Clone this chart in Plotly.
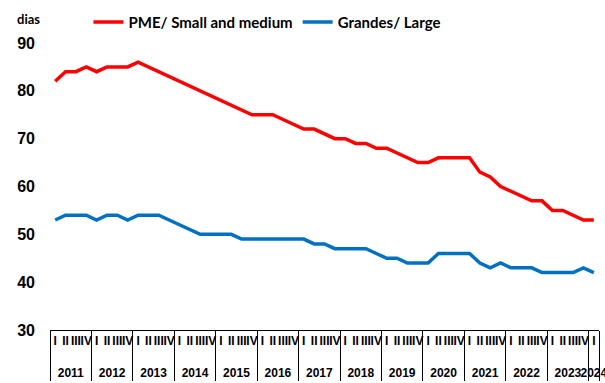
import plotly.graph_objects as go

years = ["2011", "2012", "2013", "2014", "2015", "2016", "2017",
         "2018", "2019", "2020", "2021", "2022", "2023", "2024"]
quarters = ["I", "II", "III", "IV"]

pme = [82, 84, 84, 85, 84, 85, 85, 85,
       86, 85, 84, 83, 82, 81, 80, 79,
       78, 77, 76, 75, 75, 75, 74, 73,
       72, 72, 71, 70, 70, 69, 69, 68,
       68, 67, 66, 65, 65, 66, 66, 66,
       66, 63, 62, 60, 59, 58, 57, 57,
       55, 55, 54, 53, 53]
grandes = [53, 54, 54, 54, 53, 54, 54, 53,
           54, 54, 54, 53, 52, 51, 50, 50,
           50, 50, 49, 49, 49, 49, 49, 49,
           49, 48, 48, 47, 47, 47, 47, 46,
           45, 45, 44, 44, 44, 46, 46, 46,
           46, 44, 43, 44, 43, 43, 43, 42,
           42, 42, 42, 43, 42]

n = len(pme)
# year labels sit a line lower than the quarter row
year_row = ["<br>" + years[i // 4] for i in range(n)]
quarter_row = [quarters[i % 4] for i in range(n)]
x = [year_row, quarter_row]

fig = go.Figure()
fig.add_trace(go.Scatter(x=x, y=pme, mode="lines", name="PME/ Small and medium",
                         line=dict(color="#FF0000", width=3.5)))
fig.add_trace(go.Scatter(x=x, y=grandes, mode="lines", name="Grandes/ Large",
                         line=dict(color="#0070C0", width=3.5)))

fig.update_layout(
    width=605, height=383,
    margin=dict(l=50, r=6, t=37, b=53),
    paper_bgcolor="white", plot_bgcolor="white",
    showlegend=True,
    legend=dict(orientation="h", x=0.07, y=1.13, yanchor="top", xanchor="left",
                font=dict(family="Lato", size=15, weight="bold", color="black"),
                itemwidth=30, tracegroupgap=0, bgcolor="rgba(0,0,0,0)"),
    annotations=[dict(text="dias", xref="paper", yref="paper", x=-0.04, y=1.085,
                      xanchor="center", yanchor="middle", showarrow=False,
                      font=dict(family="Lato", size=13, weight="bold", color="black"))],
)

fig.update_xaxes(
    type="multicategory",
    automargin=False,
    range=[-0.5, n - 0.5],
    tickmode="linear", tick0=0, dtick=1,
    showline=True, linecolor="black", linewidth=1, mirror=False,
    ticks="", showgrid=False, tickangle=0,
    showdividers=True, dividercolor="black", dividerwidth=1,
    tickfont=dict(family="Liberation Sans", size=12, weight="bold", color="black"),
)
fig.update_yaxes(
    automargin=False,
    range=[30, 90], dtick=10, showgrid=False, zeroline=False, showline=False,
    ticks="", ticklabelstandoff=14,
    tickfont=dict(family="Liberation Sans", size=16, weight="bold", color="black"),
)

fig.write_html("out.html")
